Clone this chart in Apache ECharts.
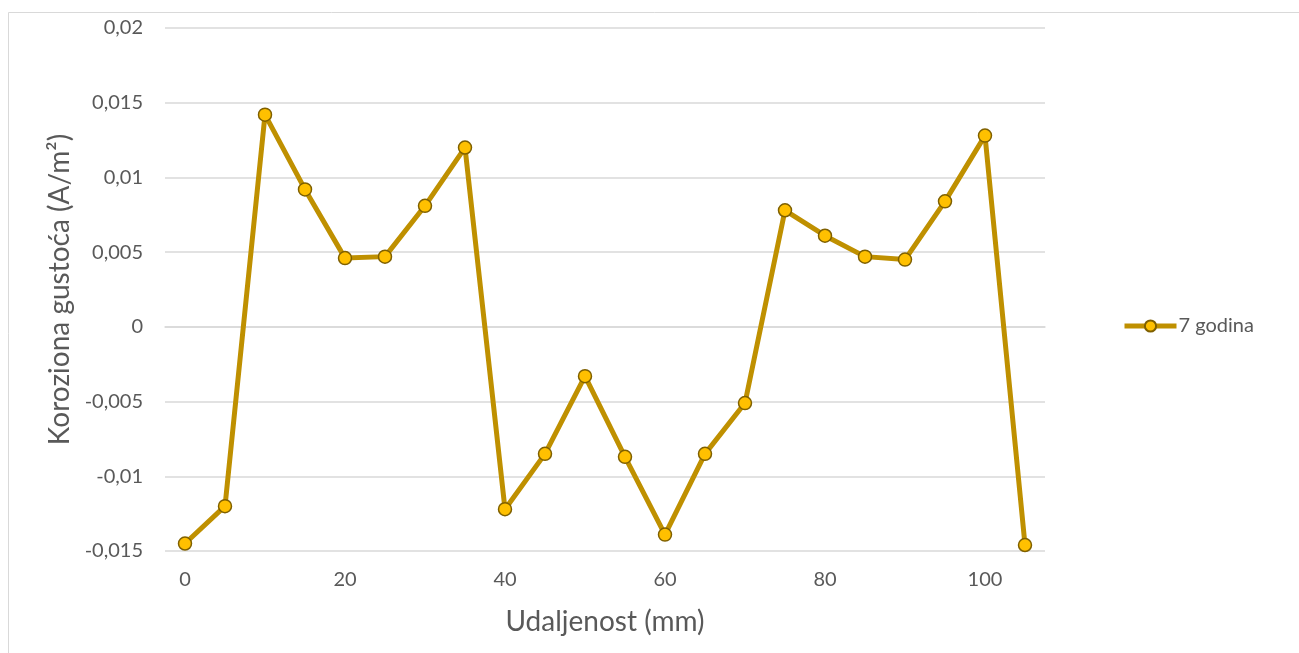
<!DOCTYPE html>
<html>
<head>
<meta charset="utf-8">
<script src="https://cdn.jsdelivr.net/npm/echarts@6/dist/echarts.min.js"></script>
<style>
html,body{margin:0;padding:0;background:#fff;}
#chart{width:1299px;height:653px;}
</style>
</head>
<body>
<div id="chart"></div>
<script>
// udaljenost (mm)
var distances = [0, 5, 10, 15, 20, 25, 30, 35, 40, 45, 50, 55, 60, 65, 70, 75, 80, 85, 90, 95, 100, 105];
// korozijska gustoca struje, 7 godina
var density7 = [-0.0145, -0.0120, 0.0142, 0.0092, 0.0046, 0.0047, 0.0081, 0.0120, -0.0122, -0.0085, -0.0033,
  -0.0087, -0.0139, -0.0085, -0.0051, 0.0078, 0.0061, 0.0047, 0.0045, 0.0084, 0.0128, -0.0146];
var seriesName = '7 godina';
var yMin = -0.015, yMax = 0.02, yStep = 0.005;

var txt = '#595959';
var font = 'Lato';

var myChart = echarts.init(document.getElementById('chart'));
var option = {
  animation: false,
  backgroundColor: '#fff',
  textStyle: { fontFamily: font },
  graphic: [{
    type: 'rect',
    shape: { x: 8.5, y: 12.5, width: 1400, height: 700 },
    style: { fill: 'none', stroke: '#D9D9D9', lineWidth: 1 },
    silent: true
  }],
  grid: { left: 165, right: 254, top: 28, bottom: 102 },
  legend: {
    data: [seriesName],
    orient: 'vertical',
    left: 1122,
    top: 316,
    padding: 0,
    itemWidth: 52,
    itemHeight: 14,
    lineStyle: { width: 5, color: '#BF9000' },
    textStyle: { color: txt, fontSize: 20, fontFamily: font, padding: [0, 0, 0, -3] }
  },
  xAxis: {
    type: 'category',
    data: distances,
    boundaryGap: true,
    name: 'Udaljenost (mm)',
    nameLocation: 'middle',
    nameGap: 57,
    nameTextStyle: { color: txt, fontSize: 28, fontFamily: font },
    axisLine: { lineStyle: { color: '#D9D9D9', width: 1.5 } },
    axisTick: { inside: true, length: 6, interval: 3, lineStyle: { color: '#D9D9D9', width: 1.5 } },
    axisLabel: { interval: 3, color: txt, fontSize: 20, margin: 19 },
    splitLine: { show: false }
  },
  yAxis: {
    type: 'value',
    min: yMin,
    max: yMax,
    interval: yStep,
    name: 'Koroziona gustoća (A/m²)',
    nameLocation: 'middle',
    nameGap: 84,
    nameTextStyle: { color: txt, fontSize: 28, fontFamily: font },
    axisLine: { show: false },
    axisTick: { show: false },
    axisLabel: {
      color: txt, fontSize: 20, margin: 22,
      formatter: function (v) { return String(Number(v.toFixed(4))).replace('.', ','); }
    },
    splitLine: { lineStyle: { color: '#D9D9D9', width: 1.5 } }
  },
  series: [{
    name: seriesName,
    type: 'line',
    data: density7,
    symbol: 'circle',
    symbolSize: 13,
    lineStyle: { color: '#BF9000', width: 5 },
    itemStyle: { color: '#FFC000', borderColor: '#7F6000', borderWidth: 1.5 }
  }]
};
myChart.setOption(option);
</script>
</body>
</html>
